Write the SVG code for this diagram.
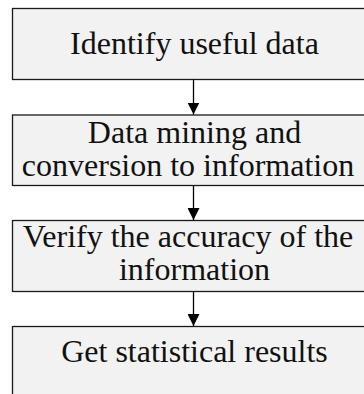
<svg xmlns="http://www.w3.org/2000/svg" width="364" height="394" viewBox="0 0 364 394">
<style>
.box{fill:#f2f2f2;stroke:#1a1a1a;stroke-width:1.3}
.t{font-family:"Liberation Serif","Times New Roman",serif;font-size:32px;fill:#111;text-anchor:middle}
.c{stroke:#000;stroke-width:1.3;fill:none}
</style>
<defs>
<marker id="ah" markerWidth="12" markerHeight="12" refX="12" refY="6" orient="auto" markerUnits="userSpaceOnUse">
<path d="M0,0 L12,6 L0,12 Z" fill="#000"/>
</marker>
</defs>
<rect width="364" height="394" fill="#fff"/>
<g id="n1"><rect class="box" x="12.5" y="8.5" width="366" height="71"/><text class="t" x="194.5" y="54">Identify useful data</text></g>
<g id="n2"><rect class="box" x="12.5" y="115" width="366" height="70.5"/><text class="t" x="194.5" y="143">Data mining and</text><text class="t" x="188" y="176">conversion to information</text></g>
<g id="n3"><rect class="box" x="12.5" y="220.5" width="366" height="71"/><text class="t" x="188" y="247">Verify the accuracy of the</text><text class="t" x="194.5" y="280">information</text></g>
<g id="n4"><rect class="box" x="12.5" y="326.5" width="366" height="80"/><text class="t" x="194.5" y="362">Get statistical results</text></g>
<g id="edges">
<line class="c" x1="193.5" y1="79.5" x2="193.5" y2="114.5" marker-end="url(#ah)"/>
<line class="c" x1="193.5" y1="185.5" x2="193.5" y2="220" marker-end="url(#ah)"/>
<line class="c" x1="193.5" y1="291.5" x2="193.5" y2="326" marker-end="url(#ah)"/>
</g>
</svg>
